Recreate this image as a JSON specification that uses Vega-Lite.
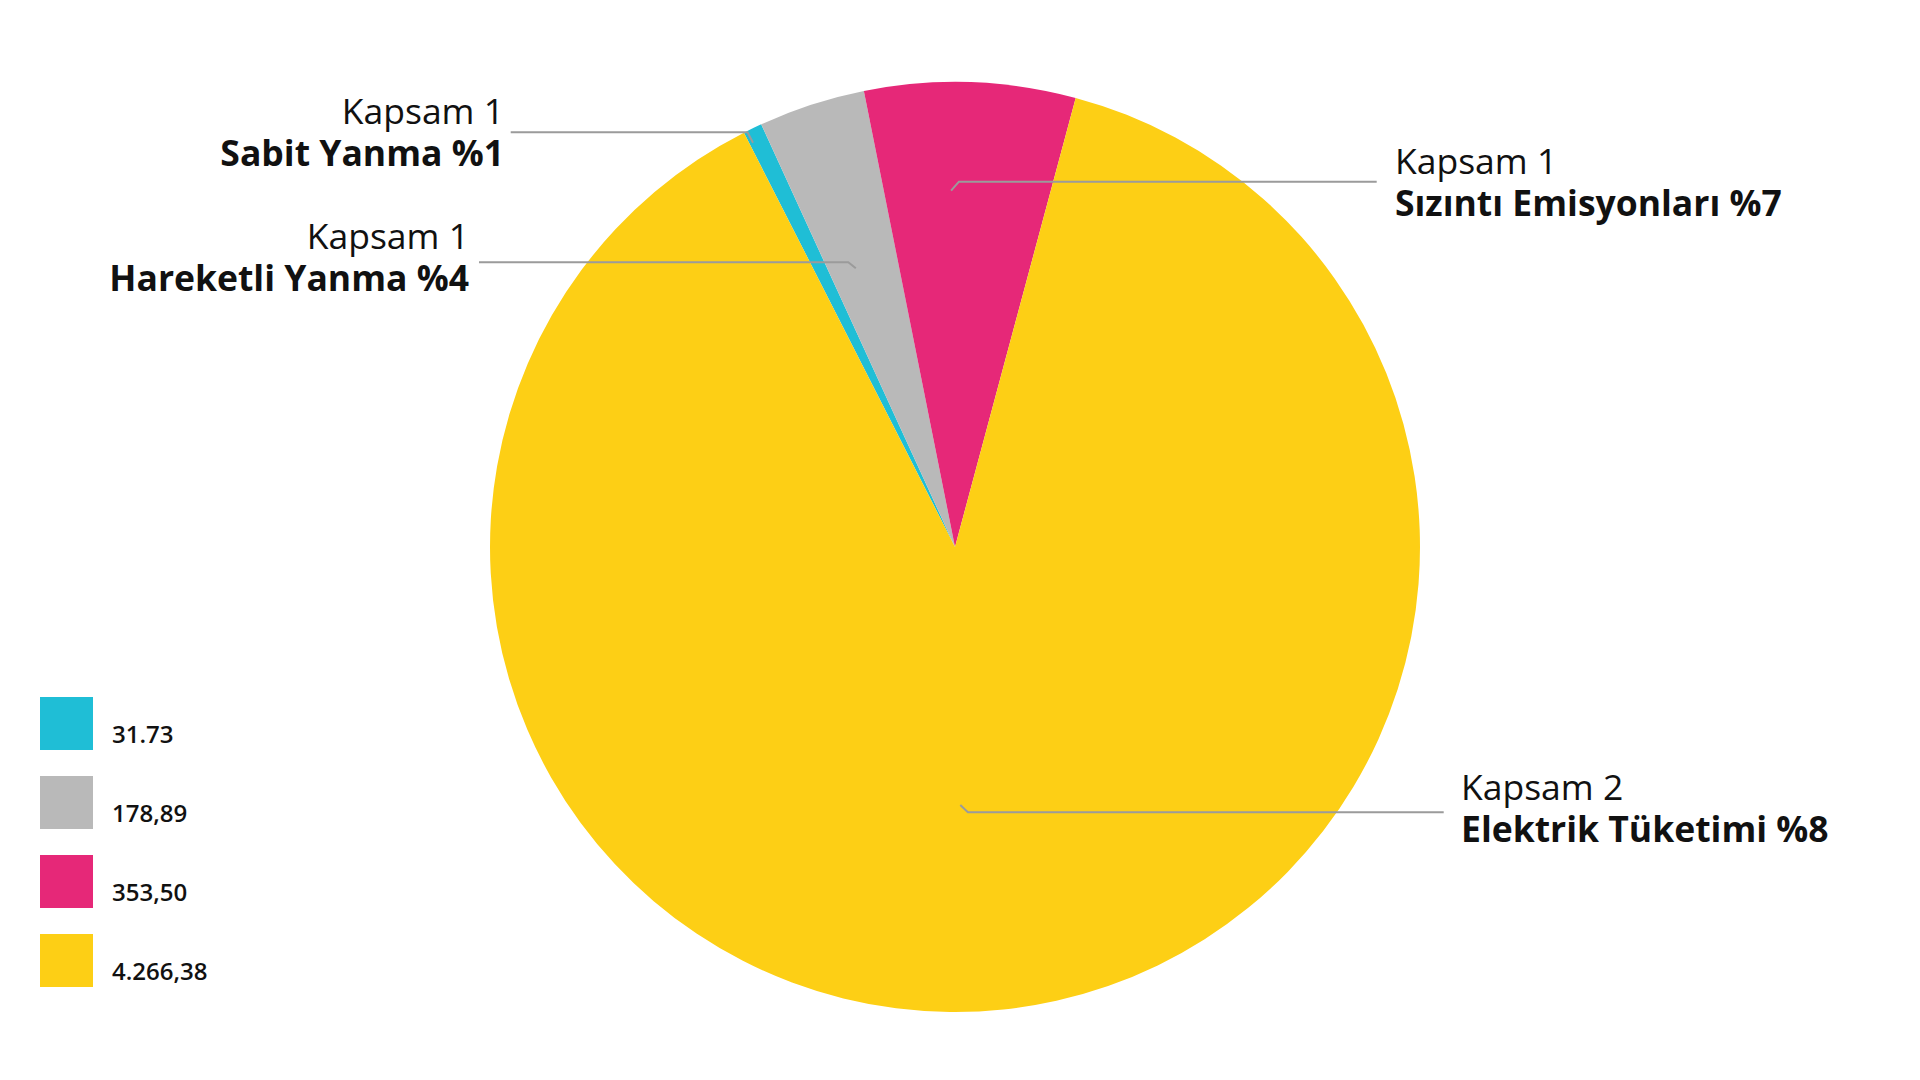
{
  "$schema": "https://vega.github.io/schema/vega-lite/v6.json",
  "width": 1920,
  "height": 1080,
  "autosize": {"type": "fit", "contains": "padding"},
  "padding": 0,
  "background": "white",
  "config": {"view": {"stroke": null}},
  "datasets": {
    "emissions": [
      {"label": "31.73", "value": 31.73, "category": "Kapsam 1 - Sabit Yanma"},
      {"label": "178,89", "value": 178.89, "category": "Kapsam 1 - Hareketli Yanma"},
      {"label": "353,50", "value": 353.5, "category": "Kapsam 1 - Sızıntı Emisyonları"},
      {"label": "4.266,38", "value": 4266.38, "category": "Kapsam 2 - Elektrik Tüketimi"}
    ],
    "leaders": [
      {"name": "Sabit", "seq": 1, "lx": -0.9555, "ly": 0.8918},
      {"name": "Sabit", "seq": 2, "lx": -0.4462, "ly": 0.8918},
      {"name": "Sabit", "seq": 3, "lx": -0.4344, "ly": 0.8695},
      {"name": "Hareketli", "seq": 1, "lx": -1.0237, "ly": 0.6123},
      {"name": "Hareketli", "seq": 2, "lx": -0.2295, "ly": 0.6123},
      {"name": "Hareketli", "seq": 3, "lx": -0.2133, "ly": 0.5994},
      {"name": "Sizinti", "seq": 1, "lx": 0.9069, "ly": 0.7856},
      {"name": "Sizinti", "seq": 2, "lx": 0.0084, "ly": 0.7856},
      {"name": "Sizinti", "seq": 3, "lx": -0.0084, "ly": 0.7662},
      {"name": "Elektrik", "seq": 1, "lx": 1.051, "ly": -0.5705},
      {"name": "Elektrik", "seq": 2, "lx": 0.0277, "ly": -0.5705},
      {"name": "Elektrik", "seq": 3, "lx": 0.0114, "ly": -0.5548}
    ],
    "labels": [
      {"name": "Sabit", "side": "left", "head": "Kapsam 1", "body": "Sabit Yanma %1", "tx": -0.9699, "ty": 0.8645},
      {"name": "Hareketli", "side": "left", "head": "Kapsam 1", "body": "Hareketli Yanma %4", "tx": -1.0452, "ty": 0.5946},
      {"name": "Sizinti", "side": "right", "head": "Kapsam 1", "body": "Sızıntı Emisyonları %7", "tx": 0.9462, "ty": 0.7566},
      {"name": "Elektrik", "side": "right", "head": "Kapsam 2", "body": "Elektrik Tüketimi %8", "tx": 1.0882, "ty": -0.5882}
    ]
  },
  "layer": [
    {
      "data": {"name": "emissions"},
      "mark": {"type": "arc", "outerRadius": 465, "stroke": null},
      "encoding": {
        "x": {"datum": 0, "type": "quantitative", "scale": {"domain": [-2.0538, 2.0753], "nice": false, "zero": false}, "axis": null},
        "y": {"datum": 0, "type": "quantitative", "scale": {"domain": [-1.1462, 1.1763], "nice": false, "zero": false}, "axis": null},
        "theta": {"field": "value", "type": "quantitative", "stack": true, "scale": {"range": [-0.4712, 5.812]}},
        "order": {"field": "value", "sort": "ascending"},
        "color": {
          "field": "label",
          "type": "nominal",
          "scale": {"domain": ["31.73", "178,89", "353,50", "4.266,38"], "range": ["#1FBED6", "#B9B9B9", "#E62878", "#FDCF15"]},
          "legend": {
            "title": null,
            "orient": "none",
            "legendX": 40,
            "legendY": 697,
            "padding": 0,
            "symbolType": "square",
            "symbolSize": 2809,
            "symbolStrokeWidth": 0,
            "symbolOpacity": 1,
            "labelFont": "Open Sans",
            "labelFontSize": 24,
            "labelFontWeight": 600,
            "labelColor": "#111111",
            "labelOffset": 19,
            "labelBaseline": "top",
            "rowPadding": 26
          }
        }
      }
    },
    {
      "data": {"name": "leaders"},
      "mark": {"type": "line", "color": "#9b9b9b", "strokeWidth": 2},
      "encoding": {
        "x": {"field": "lx", "type": "quantitative", "scale": {"domain": [-2.0538, 2.0753], "nice": false, "zero": false}, "axis": null},
        "y": {"field": "ly", "type": "quantitative", "scale": {"domain": [-1.1462, 1.1763], "nice": false, "zero": false}, "axis": null},
        "detail": {"field": "name"},
        "order": {"field": "seq"}
      }
    },
    {
      "data": {"name": "labels"},
      "transform": [{"filter": "datum.side === 'left'"}],
      "mark": {"type": "text", "align": "right", "baseline": "alphabetic", "dy": -21, "font": "Open Sans", "fontWeight": "normal", "fontSize": 35.5, "color": "#111111"},
      "encoding": {
        "x": {"field": "tx", "type": "quantitative", "scale": {"domain": [-2.0538, 2.0753], "nice": false, "zero": false}, "axis": null},
        "y": {"field": "ty", "type": "quantitative", "scale": {"domain": [-1.1462, 1.1763], "nice": false, "zero": false}, "axis": null},
        "text": {"field": "head"}
      }
    },
    {
      "data": {"name": "labels"},
      "transform": [{"filter": "datum.side === 'left'"}],
      "mark": {"type": "text", "align": "right", "baseline": "alphabetic", "dy": 21, "font": "Open Sans", "fontWeight": "bold", "fontSize": 35.5, "color": "#111111"},
      "encoding": {
        "x": {"field": "tx", "type": "quantitative", "scale": {"domain": [-2.0538, 2.0753], "nice": false, "zero": false}, "axis": null},
        "y": {"field": "ty", "type": "quantitative", "scale": {"domain": [-1.1462, 1.1763], "nice": false, "zero": false}, "axis": null},
        "text": {"field": "body"}
      }
    },
    {
      "data": {"name": "labels"},
      "transform": [{"filter": "datum.side === 'right'"}],
      "mark": {"type": "text", "align": "left", "baseline": "alphabetic", "dy": -21, "font": "Open Sans", "fontWeight": "normal", "fontSize": 35.5, "color": "#111111"},
      "encoding": {
        "x": {"field": "tx", "type": "quantitative", "scale": {"domain": [-2.0538, 2.0753], "nice": false, "zero": false}, "axis": null},
        "y": {"field": "ty", "type": "quantitative", "scale": {"domain": [-1.1462, 1.1763], "nice": false, "zero": false}, "axis": null},
        "text": {"field": "head"}
      }
    },
    {
      "data": {"name": "labels"},
      "transform": [{"filter": "datum.side === 'right'"}],
      "mark": {"type": "text", "align": "left", "baseline": "alphabetic", "dy": 21, "font": "Open Sans", "fontWeight": "bold", "fontSize": 35.5, "color": "#111111"},
      "encoding": {
        "x": {"field": "tx", "type": "quantitative", "scale": {"domain": [-2.0538, 2.0753], "nice": false, "zero": false}, "axis": null},
        "y": {"field": "ty", "type": "quantitative", "scale": {"domain": [-1.1462, 1.1763], "nice": false, "zero": false}, "axis": null},
        "text": {"field": "body"}
      }
    }
  ]
}
